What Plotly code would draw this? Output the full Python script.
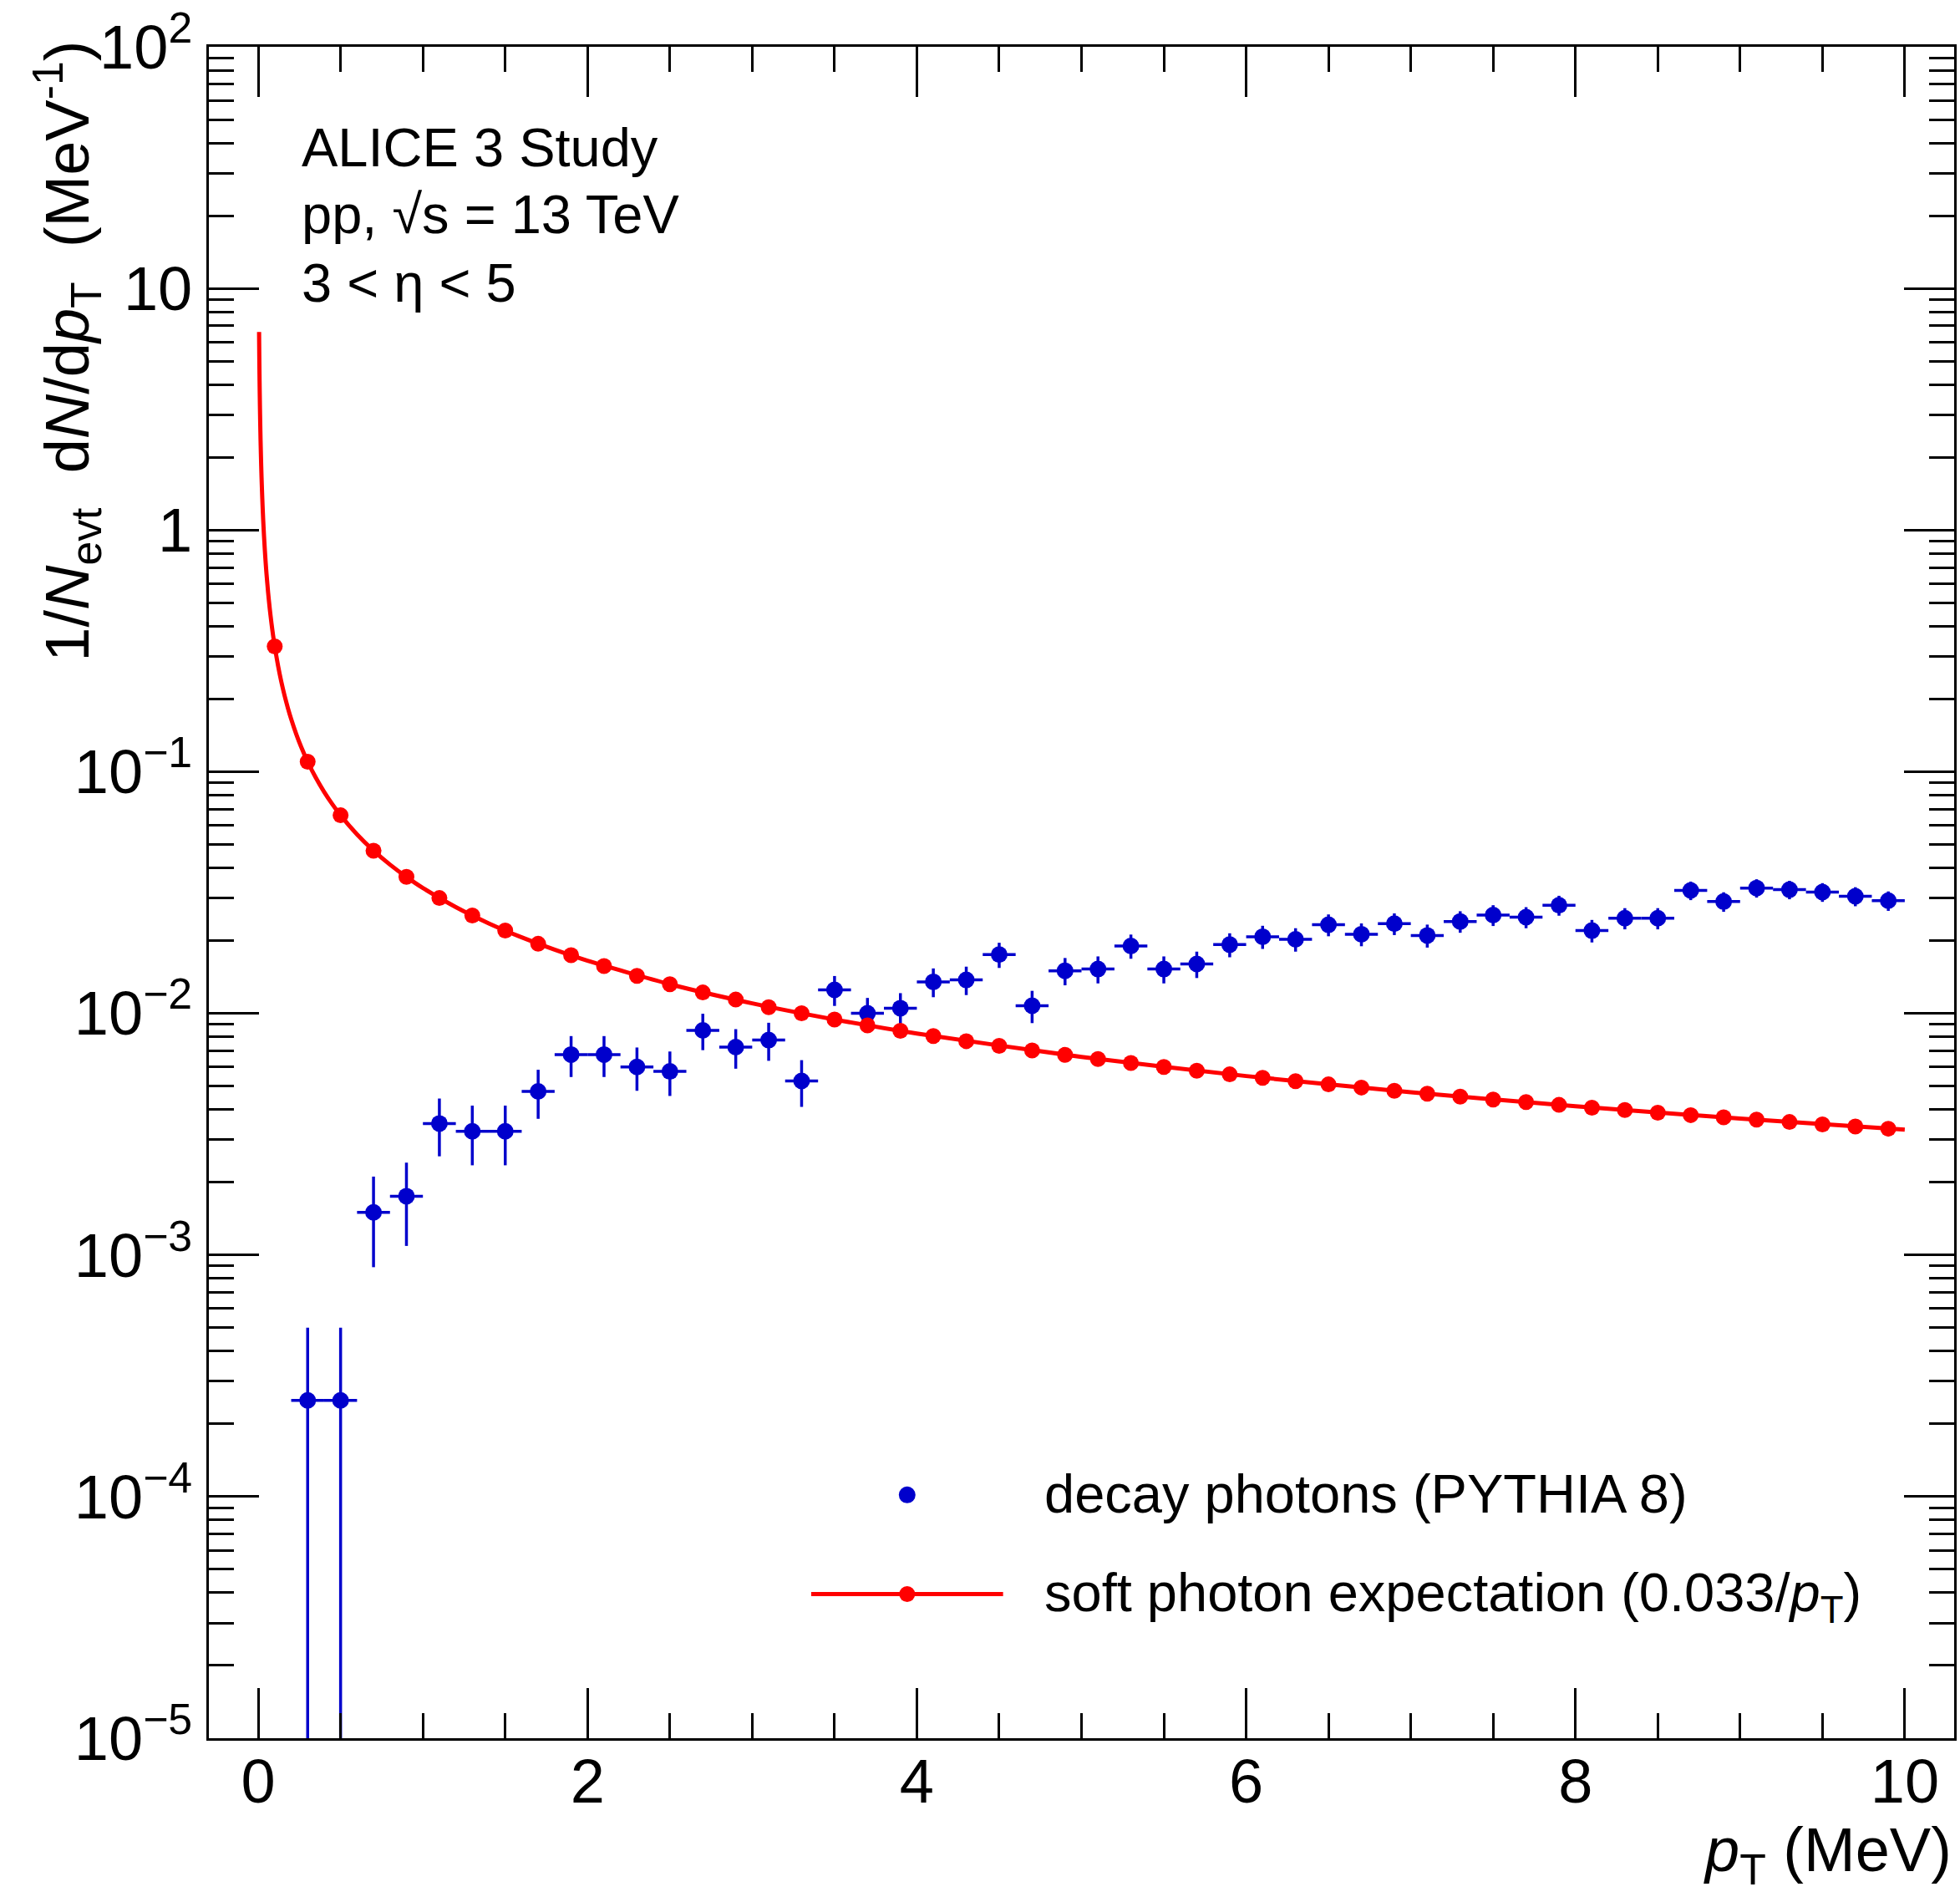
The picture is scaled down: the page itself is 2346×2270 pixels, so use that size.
import plotly.graph_objects as go

# ---------------- data ----------------
pt_bins = [0.1, 0.3, 0.5, 0.7, 0.9, 1.1, 1.3, 1.5, 1.7, 1.9, 2.1, 2.3, 2.5, 2.7, 2.9,
           3.1, 3.3, 3.5, 3.7, 3.9, 4.1, 4.3, 4.5, 4.7, 4.9, 5.1, 5.3, 5.5, 5.7, 5.9,
           6.1, 6.3, 6.5, 6.7, 6.9, 7.1, 7.3, 7.5, 7.7, 7.9, 8.1, 8.3, 8.5, 8.7, 8.9,
           9.1, 9.3, 9.5, 9.7, 9.9]

# soft photon expectation (points)
soft_vals = [0.330, 0.110, 0.0660, 0.0471, 0.0367, 0.0300, 0.0254, 0.0220, 0.0194, 0.0174,
             0.0157, 0.0143, 0.0132, 0.0122, 0.0114, 0.0106, 0.0100, 0.00943, 0.00892, 0.00846,
             0.00805, 0.00767, 0.00733, 0.00702, 0.00673, 0.00647, 0.00623, 0.00600, 0.00579, 0.00559,
             0.00541, 0.00524, 0.00508, 0.00493, 0.00478, 0.00465, 0.00452, 0.00440, 0.00429, 0.00418,
             0.00407, 0.00398, 0.00388, 0.00379, 0.00371, 0.00363, 0.00355, 0.00347, 0.00340, 0.00333]

# soft photon expectation (curve)
curve_pt = [0.005, 0.0055, 0.006, 0.0065, 0.007, 0.008, 0.009, 0.010, 0.011, 0.012, 0.014,
            0.016, 0.018, 0.020, 0.023, 0.026, 0.030, 0.035, 0.040, 0.045, 0.050, 0.060,
            0.070, 0.080, 0.090, 0.10, 0.12, 0.14, 0.16, 0.18, 0.20, 0.23, 0.26, 0.30,
            0.35, 0.40, 0.45, 0.50, 0.60, 0.70, 0.80, 0.90, 1.0, 1.2, 1.4, 1.6, 1.8, 2.0,
            2.5, 3.0, 3.5, 4.0, 5.0, 6.0, 7.0, 8.0, 9.0, 10.0]
curve_val = [6.6, 6.0, 5.5, 5.077, 4.714, 4.125, 3.667, 3.3, 3.0, 2.75, 2.357,
             2.0625, 1.833, 1.65, 1.435, 1.269, 1.1, 0.9429, 0.825, 0.7333, 0.66, 0.55,
             0.4714, 0.4125, 0.3667, 0.33, 0.275, 0.2357, 0.2063, 0.1833, 0.165, 0.1435, 0.1269, 0.11,
             0.09429, 0.0825, 0.07333, 0.066, 0.055, 0.04714, 0.04125, 0.03667, 0.033, 0.0275, 0.02357,
             0.02063, 0.01833, 0.0165,
             0.0132, 0.011, 0.009429, 0.00825, 0.0066, 0.0055, 0.004714, 0.004125, 0.003667, 0.0033]

# decay photons (PYTHIA 8)
decay_pt = [0.3, 0.5, 0.7, 0.9, 1.1, 1.3, 1.5, 1.7, 1.9, 2.1, 2.3, 2.5, 2.7, 2.9,
            3.1, 3.3, 3.5, 3.7, 3.9, 4.1, 4.3, 4.5, 4.7, 4.9, 5.1, 5.3, 5.5, 5.7, 5.9,
            6.1, 6.3, 6.5, 6.7, 6.9, 7.1, 7.3, 7.5, 7.7, 7.9, 8.1, 8.3, 8.5, 8.7, 8.9,
            9.1, 9.3, 9.5, 9.7, 9.9]
decay_vals = [2.5e-4, 2.5e-4, 1.5e-3, 1.75e-3, 3.5e-3, 3.25e-3, 3.25e-3, 4.75e-3, 6.75e-3, 6.75e-3,
              6.0e-3, 5.75e-3, 8.5e-3, 7.25e-3, 7.75e-3, 5.25e-3, 1.25e-2, 1.0e-2, 1.05e-2, 1.35e-2,
              1.375e-2, 1.75e-2, 1.075e-2, 1.5e-2, 1.525e-2, 1.9e-2, 1.525e-2, 1.6e-2, 1.925e-2, 2.075e-2,
              2.025e-2, 2.325e-2, 2.125e-2, 2.35e-2, 2.1e-2, 2.4e-2, 2.55e-2, 2.5e-2, 2.8e-2, 2.2e-2,
              2.475e-2, 2.475e-2, 3.225e-2, 2.9e-2, 3.3e-2, 3.25e-2, 3.175e-2, 3.05e-2, 2.925e-2]
decay_err_hi = [2.5e-4, 2.5e-4, 6.1e-4, 6.6e-4, 9.4e-4, 9.0e-4, 9.0e-4, 1.09e-3, 1.30e-3, 1.30e-3,
                1.22e-3, 1.20e-3, 1.46e-3, 1.35e-3, 1.39e-3, 1.15e-3, 1.77e-3, 1.58e-3, 1.62e-3, 1.84e-3,
                1.85e-3, 2.09e-3, 1.64e-3, 1.94e-3, 1.95e-3, 2.18e-3, 1.95e-3, 2.0e-3, 2.19e-3, 2.28e-3,
                2.25e-3, 2.41e-3, 2.30e-3, 2.42e-3, 2.29e-3, 2.45e-3, 2.52e-3, 2.5e-3, 2.65e-3, 2.35e-3,
                2.49e-3, 2.49e-3, 2.84e-3, 2.69e-3, 2.87e-3, 2.85e-3, 2.82e-3, 2.76e-3, 2.70e-3]
decay_err_lo = [2.49e-4, 2.49e-4, 6.1e-4, 6.6e-4, 9.4e-4, 9.0e-4, 9.0e-4, 1.09e-3, 1.30e-3, 1.30e-3,
                1.22e-3, 1.20e-3, 1.46e-3, 1.35e-3, 1.39e-3, 1.15e-3, 1.77e-3, 1.58e-3, 1.62e-3, 1.84e-3,
                1.85e-3, 2.09e-3, 1.64e-3, 1.94e-3, 1.95e-3, 2.18e-3, 1.95e-3, 2.0e-3, 2.19e-3, 2.28e-3,
                2.25e-3, 2.41e-3, 2.30e-3, 2.42e-3, 2.29e-3, 2.45e-3, 2.52e-3, 2.5e-3, 2.65e-3, 2.35e-3,
                2.49e-3, 2.49e-3, 2.84e-3, 2.69e-3, 2.87e-3, 2.85e-3, 2.82e-3, 2.76e-3, 2.70e-3]
bin_half_width = 0.1

x_tickvals = [0, 2, 4, 6, 8, 10]
y_tickvals = [1e-5, 1e-4, 1e-3, 1e-2, 1e-1, 1, 10, 100]
y_ticktext = ["10<sup>\u22125</sup>", "10<sup>\u22124</sup>", "10<sup>\u22123</sup>",
              "10<sup>\u22122</sup>", "10<sup>\u22121</sup>", "1", "10", "10<sup>2</sup>"]
y_minor = [m * 10.0 ** e for e in range(-5, 2) for m in range(2, 10)]

# ---------------- style ----------------
FONT = "Liberation Sans, Arial, Helvetica, sans-serif"
BLUE = "#0000CC"
RED = "#FF0000"
W, H = 2346, 2270
L, R, T, B = 250, 4, 50, 190

fig = go.Figure()

fig.add_trace(go.Scatter(
    x=decay_pt, y=decay_vals, mode="markers",
    marker=dict(color=BLUE, size=20, line=dict(width=0)),
    error_x=dict(type="constant", value=bin_half_width, color=BLUE, thickness=3.5, width=0),
    error_y=dict(type="data", array=decay_err_hi, arrayminus=decay_err_lo, symmetric=False,
                 color=BLUE, thickness=3.5, width=0),
    showlegend=False))

fig.add_trace(go.Scatter(
    x=curve_pt, y=curve_val, mode="lines",
    line=dict(color=RED, width=5, shape="spline", smoothing=0.6),
    showlegend=False))

fig.add_trace(go.Scatter(
    x=pt_bins, y=soft_vals, mode="markers",
    marker=dict(color=RED, size=19, line=dict(width=0)),
    showlegend=False))

def px_x(px):
    return (px - L) / (W - L - R)

def px_y(py):
    return (H - B - py) / (H - T - B)

# legend drawn on an overlay axis in plot-fraction coordinates
fig.add_trace(go.Scatter(
    x=[px_x(1087)], y=[px_y(1788)], mode="markers", xaxis="x2", yaxis="y2",
    marker=dict(color=BLUE, size=20), showlegend=False, hoverinfo="skip"))
fig.add_trace(go.Scatter(
    x=[px_x(972), px_x(1202)], y=[px_y(1907), px_y(1907)], mode="lines", xaxis="x2", yaxis="y2",
    line=dict(color=RED, width=5), showlegend=False, hoverinfo="skip"))
fig.add_trace(go.Scatter(
    x=[px_x(1087)], y=[px_y(1907)], mode="markers", xaxis="x2", yaxis="y2",
    marker=dict(color=RED, size=19), showlegend=False, hoverinfo="skip"))

axis_common = dict(showline=True, linecolor="black", linewidth=3, mirror="allticks",
                   ticks="inside", tickcolor="black", tickwidth=3, ticklen=60,
                   showgrid=False, zeroline=False, ticklabeloverflow="allow",
                   tickfont=dict(family=FONT, size=74, color="black"))

fig.update_layout(
    width=W, height=H,
    margin=dict(l=L, r=R, t=T, b=B, pad=0),
    paper_bgcolor="white", plot_bgcolor="white",
    font=dict(family=FONT, color="black"),
    showlegend=False,
    xaxis=dict(range=[-0.3, 10.3], tickvals=x_tickvals, ticktext=[str(v) for v in x_tickvals],
               minor=dict(ticks="inside", ticklen=30, tickwidth=3, tickcolor="black",
                          dtick=0.5, tick0=0),
               ticklabelstandoff=-15,
               **axis_common),
    yaxis=dict(type="log", range=[-5, 2], tickvals=y_tickvals, ticktext=y_ticktext,
               minor=dict(ticks="inside", ticklen=30, tickwidth=3, tickcolor="black",
                          tickvals=y_minor),
               ticklabelstandoff=2,
               **axis_common),
    xaxis2=dict(range=[0, 1], overlaying="x", visible=False, fixedrange=True),
    yaxis2=dict(range=[0, 1], overlaying="y", visible=False, fixedrange=True),
)

annos = [
    dict(text="ALICE 3 Study", x=px_x(360), y=px_y(208), xanchor="left", yanchor="bottom", size=65),
    dict(text="pp, \u221As = 13 TeV", x=px_x(360), y=px_y(289), xanchor="left", yanchor="bottom", size=65),
    dict(text="3 < \u03b7 < 5", x=px_x(360), y=px_y(371), xanchor="left", yanchor="bottom", size=65),
    dict(text="decay photons (PYTHIA 8)", x=px_x(1250), y=px_y(1824), xanchor="left", yanchor="bottom", size=65),
    dict(text="soft photon expectation (0.033/<i>p</i><sub>T</sub>)", x=px_x(1250), y=px_y(1953),
         xanchor="left", yanchor="bottom", size=65),
    dict(text="<i>p</i><sub>T</sub> (MeV)", x=px_x(2340), y=px_y(2268), xanchor="right", yanchor="bottom", size=74),
]
for a in annos:
    fig.add_annotation(text=a["text"], xref="paper", yref="paper", x=a["x"], y=a["y"],
                       xanchor=a["xanchor"], yanchor=a["yanchor"], showarrow=False,
                       font=dict(family=FONT, size=a["size"], color="black"), borderpad=0)

fig.add_annotation(
    text="1/<i>N</i><sub>evt</sub>&nbsp;&nbsp;d<i>N</i>/d<i>p</i><sub>T</sub>&nbsp;&nbsp;(MeV<sup>-1</sup>)",
    xref="paper", yref="paper", x=px_x(80), y=px_y(42), xanchor="center", yanchor="top",
    textangle=-90, showarrow=False, borderpad=0,
    font=dict(family=FONT, size=74, color="black"))

fig.write_html(
    "out.html",
    config={"displayModeBar": False},
    post_script="document.body.style.margin='0';document.body.style.padding='0';"
                "document.body.style.overflow='hidden';",
)
